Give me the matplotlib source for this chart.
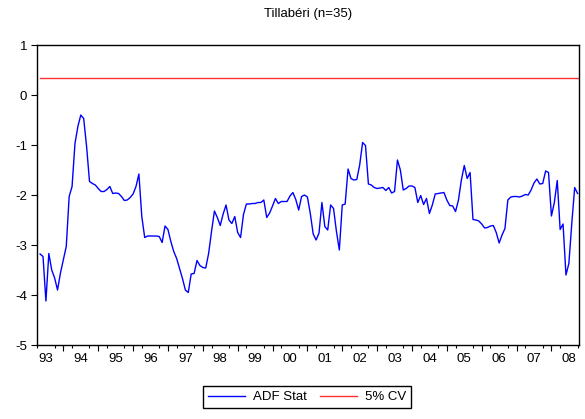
import numpy as np
import matplotlib
matplotlib.use("Agg")
import matplotlib.pyplot as plt

plt.rcParams['font.family'] = ['Liberation Sans', 'DejaVu Sans']
plt.rcParams['axes.unicode_minus'] = False

# rolling ADF statistic, monthly, May 1993 onwards (window n=35)
start_year, start_month = 1993, 5
adf_stat = [
    -3.18, -3.23, -4.12, -3.17, -3.50, -3.66, -3.90, -3.56, -3.30, -3.03,
    -2.03, -1.83, -0.97, -0.63, -0.40, -0.47, -1.03, -1.73, -1.77, -1.80,
    -1.87, -1.93, -1.93, -1.89, -1.83, -1.97, -1.96, -1.97, -2.03, -2.11,
    -2.10, -2.05, -1.98, -1.83, -1.58, -2.43, -2.85, -2.82, -2.82, -2.82,
    -2.82, -2.83, -2.95, -2.62, -2.69, -2.93, -3.13, -3.27, -3.47, -3.67,
    -3.90, -3.95, -3.58, -3.57, -3.31, -3.41, -3.45, -3.46, -3.17, -2.73,
    -2.32, -2.45, -2.61, -2.38, -2.20, -2.50, -2.57, -2.43, -2.75, -2.85,
    -2.39, -2.18, -2.18, -2.17, -2.17, -2.15, -2.15, -2.10, -2.45, -2.36,
    -2.22, -2.07, -2.17, -2.13, -2.13, -2.13, -2.02, -1.95, -2.09, -2.30,
    -2.03, -2.00, -2.04, -2.37, -2.78, -2.90, -2.76, -2.15, -2.63, -2.70,
    -2.20, -2.27, -2.73, -3.10, -2.20, -2.18, -1.48, -1.67, -1.70, -1.69,
    -1.40, -0.95, -1.01, -1.78, -1.80, -1.85, -1.87, -1.86, -1.85, -1.91,
    -1.85, -1.96, -1.93, -1.30, -1.50, -1.90, -1.87, -1.82, -1.82, -1.85,
    -2.15, -2.01, -2.19, -2.07, -2.37, -2.20, -1.98, -1.97, -1.96, -1.95,
    -2.10, -2.21, -2.22, -2.33, -2.10, -1.70, -1.41, -1.67, -1.55, -2.49,
    -2.50, -2.52, -2.58, -2.66, -2.65, -2.62, -2.61, -2.75, -2.96, -2.80,
    -2.67, -2.10, -2.04, -2.03, -2.03, -2.04, -2.02, -1.99, -2.00, -1.90,
    -1.76, -1.68, -1.78, -1.77, -1.52, -1.55, -2.42, -2.15, -1.71, -2.69,
    -2.58, -3.60, -3.37, -2.57, -1.85, -1.97,
]
cv_5pct = 0.35
years = list(range(1993, 2009))
year_labels = [str(y)[-2:] for y in years]

n = len(adf_stat)
t = start_year + (start_month - 1) / 12 + np.arange(n) / 12
cv_line = np.full(n, cv_5pct)

fig = plt.figure(figsize=(5.85, 4.19), dpi=100)
ax = fig.add_axes([0.0632, 0.1766, 0.9265, 0.716])

ax.plot(t, adf_stat, color='#0000ff', lw=1.0, label='ADF Stat')
ax.plot(t, cv_line, color='#ff3030', lw=1.0, label='5% CV')

ax.set_ylim(-5, 1)
ax.set_yticks(range(-5, 2))
ax.tick_params(axis='y', direction='out', length=4, width=0.8, labelsize=9.5, pad=3)

# year labels sit between the year boundaries
ax.set_xticks([y + 0.5 for y in years], year_labels)
ax.set_xticks(np.arange(1993, 2009, 0.25), minor=True)
ax.tick_params(axis='x', which='major', length=0, labelsize=9.5, pad=6)
ax.tick_params(axis='x', which='minor', direction='out', length=2.5, width=0.8)
sec = ax.secondary_xaxis('bottom')
sec.set_xticks(years[1:], [''] * (len(years) - 1))
sec.tick_params(direction='out', length=4.5, width=0.8)
sec.spines['bottom'].set_visible(False)

# set after the ticks so they don't widen the view
ax.set_xlim(t[0] - 0.09, t[-1] + 0.04)

for s in ax.spines.values():
    s.set_linewidth(1.0)

ax.set_title('Tillabéri (n=35)', fontsize=9.5, pad=20)

fig.legend(loc='center', bbox_to_anchor=(0.525, 1 - 397 / 419), ncol=2,
           frameon=True, fancybox=False, edgecolor='black', framealpha=1,
           fontsize=9.5, handlelength=2.8, columnspacing=1.0,
           borderpad=0.35, handletextpad=0.6)

fig.savefig('out.png', dpi=100)
